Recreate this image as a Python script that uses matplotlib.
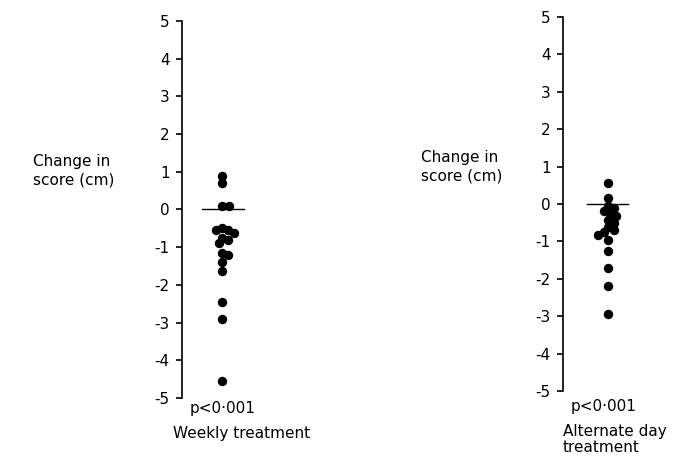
import numpy as np
import matplotlib
matplotlib.use("Agg")
import matplotlib.pyplot as plt

plt.rcParams['font.family'] = ['DejaVu Sans']
plt.rcParams['axes.unicode_minus'] = False

# Data (change in score, cm)
weekly = [0.88, 0.70, 0.10, 0.10, -0.50, -0.55, -0.55, -0.62, -0.75, -0.80,
          -0.90, -1.15, -1.20, -1.40, -1.62, -2.45, -2.90, -4.55]
alternate = [0.55, 0.15, -0.05, -0.12, -0.18, -0.25, -0.32, -0.42, -0.50, -0.62,
             -0.70, -0.75, -0.82, -0.95, -1.25, -1.72, -2.20, -2.95]
yticks = [-5, -4, -3, -2, -1, 0, 1, 2, 3, 4, 5]
ylabel = "Change in\nscore (cm)"
pval = "p<0·001"
group_labels = ["Weekly treatment", "Alternate day\ntreatment"]

W, H = 673, 463
fig = plt.figure(figsize=(W / 100, H / 100), dpi=100)


def px_axes(x0, x1, ytop, ybot):
    return fig.add_axes([x0 / W, 1 - ybot / H, (x1 - x0) / W, (ybot - ytop) / H])


def swarm(ax, vals, d_px):
    fig.canvas.draw()
    ys = np.array([ax.transData.transform((0.5, v))[1] for v in vals])
    x0 = ax.transData.transform((0.5, 0))[0]
    placed = []
    order = np.argsort(-np.array(vals))
    xs = np.zeros(len(vals))
    for i in order:
        y = ys[i]
        cands = [0.0]
        for (px, py) in placed:
            dy = abs(py - y)
            if dy < d_px:
                dx = np.sqrt(d_px ** 2 - dy ** 2)
                cands += [px + dx, px - dx]
        cands.sort(key=abs)
        for c in cands:
            ok = all((c - px) ** 2 + (y - py) ** 2 >= d_px ** 2 - 1e-6 for (px, py) in placed)
            if ok:
                xs[i] = c
                placed.append((c, y))
                break
    inv = ax.transData.inverted()
    return [inv.transform((x0 + xs[k], ys[k]))[0] for k in range(len(vals))]


def style(ax):
    ax.set_ylim(-5, 5)
    ax.set_xlim(0, 1)
    for s in ['top', 'right', 'bottom']:
        ax.spines[s].set_visible(False)
    ax.spines['left'].set_linewidth(1.2)
    ax.set_xticks([])
    ax.set_yticks(yticks)
    ax.tick_params(axis='y', direction='out', length=4, width=1.2, labelsize=11, pad=5)
    ax.patch.set_alpha(0)


ax1 = px_axes(182, 262, 21, 398)
style(ax1)
ax2 = px_axes(563, 653, 17, 391)
style(ax2)

for ax, vals, (l0, l1) in [(ax1, weekly, (0.25, 0.775)), (ax2, alternate, (0.267, 0.722))]:
    xs = swarm(ax, vals, 6.5)
    ax.scatter(xs, vals, s=46, color='black', zorder=3, clip_on=False, linewidths=0)
    ax.plot([l0, l1], [0, 0], color='black', lw=1.0, zorder=2)

fs = 11
fig.text(33 / W, 1 - 154 / H, ylabel, ha='left', va='top', fontsize=fs, linespacing=1.3)
fig.text(421 / W, 1 - 150 / H, ylabel, ha='left', va='top', fontsize=fs, linespacing=1.3)
fig.text(190 / W, 1 - 401 / H, pval, ha='left', va='top', fontsize=fs)
fig.text(173 / W, 1 - 426 / H, group_labels[0], ha='left', va='top', fontsize=fs)
fig.text(571 / W, 1 - 399 / H, pval, ha='left', va='top', fontsize=fs)
fig.text(563 / W, 1 - 424 / H, group_labels[1], ha='left', va='top', fontsize=fs, linespacing=1.1)

fig.savefig("out.png", dpi=100)
